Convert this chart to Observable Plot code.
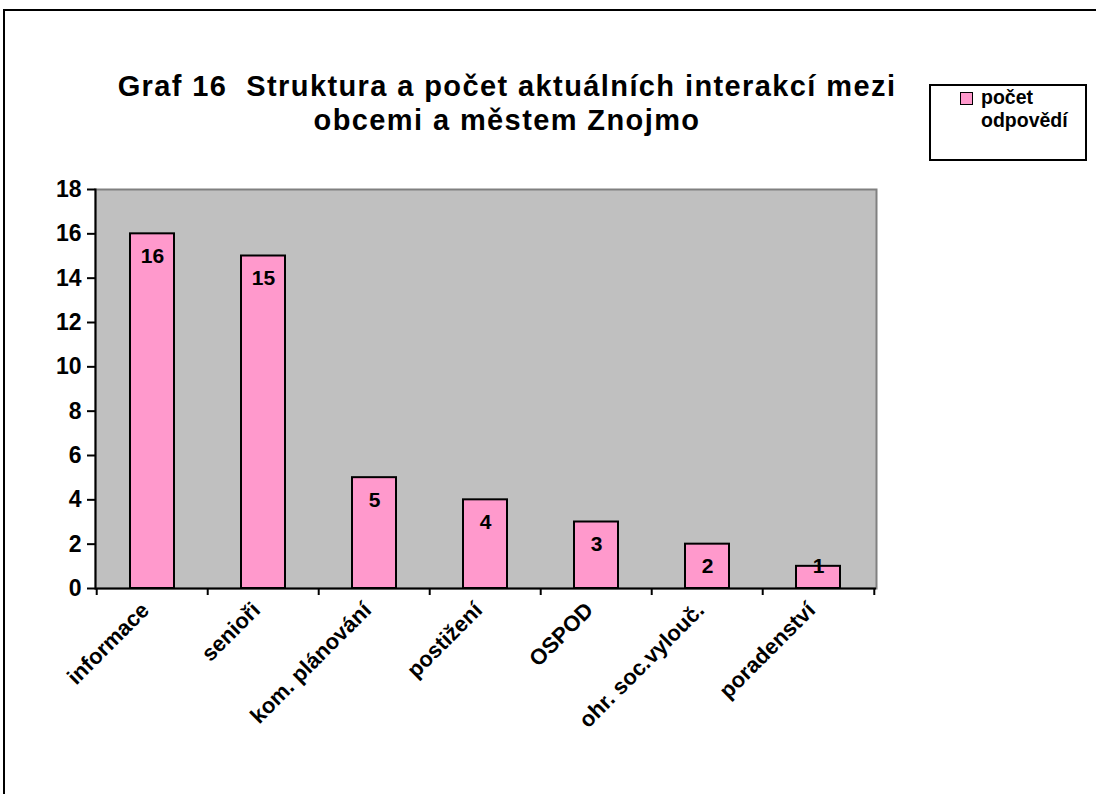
<!DOCTYPE html>
<html><head><meta charset="utf-8">
<script src="https://cdn.jsdelivr.net/npm/d3@7"></script>
<script src="https://cdn.jsdelivr.net/npm/@observablehq/plot@0.6"></script>
<style>
body{margin:0;background:#fff;font-family:"Liberation Sans",Arial,sans-serif;}
#frame{position:absolute;left:3px;top:9px;width:1200px;height:900px;border:2px solid #000;}
.tl{position:absolute;left:57px;width:900px;text-align:center;font-weight:bold;font-size:29px;letter-spacing:1.4px;line-height:34px;height:34px;color:#000;white-space:nowrap;}
#legend{position:absolute;left:929px;top:84px;width:154px;height:73px;border:2px solid #000;background:#fff;font-weight:bold;font-size:19.5px;line-height:23px;}
#legend .sw{position:absolute;left:29px;top:6px;width:11px;height:11px;background:#FF99CC;border:1.5px solid #000;}
#legend .tx{position:absolute;left:50px;top:0px;}
#chart{position:absolute;left:0;top:0;}
#chart svg g[aria-label="y-axis tick label"] text{font-size:23px;}
</style></head>
<body>
<div id="frame"></div>
<div id="chart"></div>
<div class="tl" style="top:69px">Graf 16&nbsp; Struktura a počet aktuálních interakcí mezi</div>
<div class="tl" style="top:103px">obcemi a městem Znojmo</div>
<div id="legend"><div class="sw"></div><div class="tx">počet<br>odpovědí</div></div>
<script>
const categories = ["informace","senioři","kom. plánování","postižení","OSPOD","ohr. soc.vylouč.","poradenství"];
const values = [16,15,5,4,3,2,1];
const yTicks = [0,2,4,6,8,10,12,14,16,18];
const seriesName = "počet odpovědí";

const data = categories.map((c,i)=>({category:c, value:values[i]}));
const W = 1096, H = 794, mL = 95, mR = 220, mT = 189, mB = 206;
const bw = (W - mL - mR) / categories.length;

const chart = Plot.plot({
  width: W, height: H,
  marginLeft: mL, marginRight: mR, marginTop: mT, marginBottom: mB,
  style: {fontFamily: "Liberation Sans, Arial, sans-serif", fontSize: "21px", fontWeight: "bold", color: "#000", background: "transparent"},
  x: {domain: categories, paddingInner: 0.6, paddingOuter: 0.3, align: 0.5, label: null},
  y: {domain: [0,18], label: null},
  marks: [
    Plot.frame({fill: "#C0C0C0", stroke: "#808080", strokeWidth: 2}),
    Plot.barY(data, {x: "category", y: "value", fill: "#FF99CC", stroke: "#000", strokeWidth: 2}),
    Plot.text(data, {x: "category", y: d => Math.max(d.value - 1, 1), text: d => String(d.value), fontSize: 21, fontWeight: "bold", fill: "#000"}),
    Plot.ruleY([0], {stroke: "#000", strokeWidth: 2}),
    Plot.frame({anchor: "left", stroke: "#000", strokeWidth: 2}),
    Plot.axisY({ticks: yTicks, tickSize: 8, tickPadding: 6, strokeWidth: 2, fontSize: 23, fontWeight: "bold", label: null}),
    Plot.axisX({tickSize: 7, tickFormat: () => "", dx: -bw/2, strokeWidth: 2, label: null}),
    Plot.axisX({ticks: [categories[categories.length-1]], tickSize: 7, tickFormat: () => "", dx: bw/2, strokeWidth: 2, label: null}),
    Plot.axisX({tickSize: 0, tickRotate: -45, tickPadding: 18, fontSize: 22, fontWeight: "bold", label: null, dx: -7})
  ]
});
document.getElementById("chart").appendChild(chart);
</script>
</body></html>
